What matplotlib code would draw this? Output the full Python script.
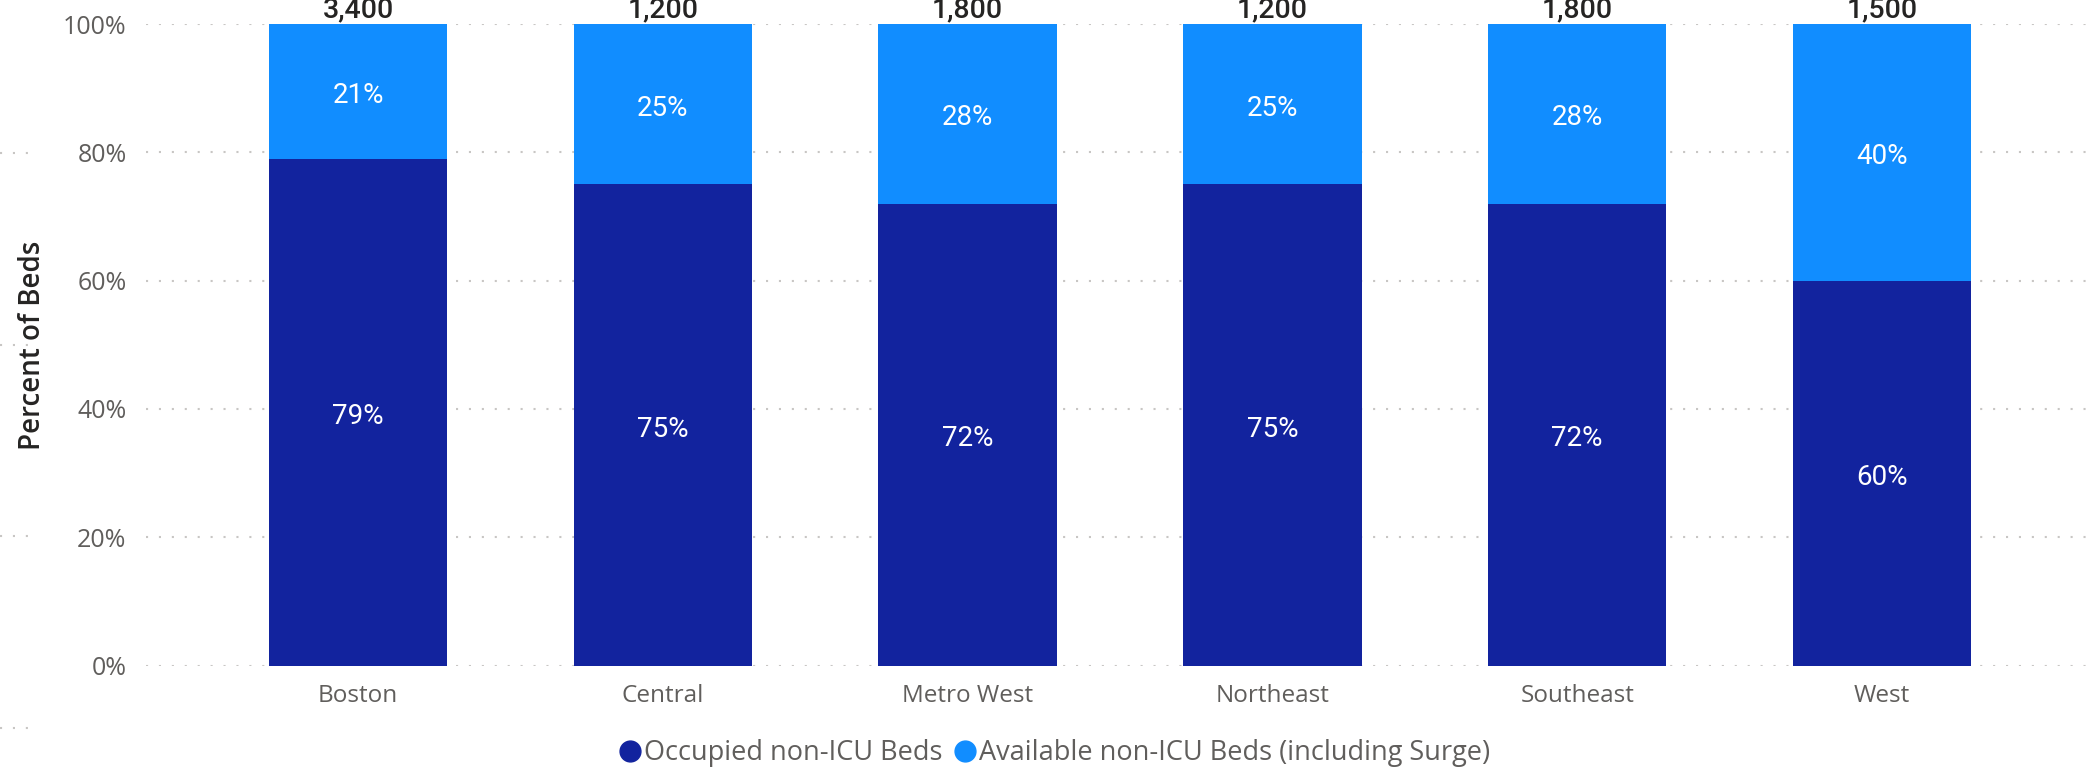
import matplotlib
matplotlib.use("Agg")
import matplotlib.pyplot as plt
from matplotlib.lines import Line2D
import numpy as np

# ---- data ----
regions = ["Boston", "Central", "Metro West", "Northeast", "Southeast", "West"]
occupied_pct = [79, 75, 72, 75, 72, 60]
available_pct = [21, 25, 28, 25, 28, 40]
total_beds = [3400, 1200, 1800, 1200, 1800, 1500]
y_ticks = [0, 20, 40, 60, 80, 100]
series_names = ["Occupied non-ICU Beds", "Available non-ICU Beds (including Surge)"]
colors = ["#12239E", "#118DFF"]

W, H = 2087, 770
fig = plt.figure(figsize=(W / 100, H / 100), dpi=100)
ax = fig.add_axes([146 / W, 1 - 665.5 / H, (W - 146) / W, (665.5 - 24) / H])

x = np.arange(len(regions))
bw = 0.585
ax.bar(x, occupied_pct, bw, color=colors[0], zorder=3)
ax.bar(x, available_pct, bw, bottom=occupied_pct, color=colors[1], zorder=3)

for xi, o, a, t in zip(x, occupied_pct, available_pct, total_beds):
    ax.annotate(f"{o}%", (xi, o / 2), xytext=(0, -3), textcoords="offset points",
                ha="center", va="center", color="white", fontsize=20, family="Roboto",
                zorder=4)
    ax.annotate(f"{a}%", (xi, o + a / 2), xytext=(0, -3), textcoords="offset points",
                ha="center", va="center", color="white", fontsize=20, family="Roboto",
                zorder=4)
    ax.annotate(f"{t:,}", (xi, o + a), xytext=(0, 4.5), textcoords="offset points",
                ha="center", va="baseline", color="#252423", fontsize=20.5,
                family="Roboto", fontweight="medium", annotation_clip=False)

ax.set_xlim((146 - 358) / 304.8, (W - 358) / 304.8)
ax.set_ylim(0, 100)
ax.set_yticks(y_ticks)
ax.set_yticklabels([f"{v}%" for v in y_ticks], fontsize=18, family="Open Sans", color="#605E5C")
ax.set_xticks(x)
ax.set_xticklabels(regions, fontsize=17.5, family="Open Sans", color="#605E5C")
ax.tick_params(axis="y", length=0, pad=14)
ax.tick_params(axis="x", length=0, pad=13)
for s in ax.spines.values():
    s.set_visible(False)
grid_style = dict(linestyle=(0, (1, 5.2)), linewidth=1.5, color="#C8C6C4")
ax.yaxis.grid(True, zorder=0, **grid_style)
ax.set_axisbelow(True)

fig.text(33 / W, 1 - 345 / H, "Percent of Beds", rotation=90, ha="center", va="center",
         fontsize=20, family="Open Sans", fontweight="semibold", color="#252423")

# stray dotted fragments at left edge
for yy in [153, 345, 536, 728]:
    fig.add_artist(Line2D([0, 32 / W], [1 - yy / H, 1 - yy / H], transform=fig.transFigure,
                          **grid_style))

handles = [Line2D([], [], marker="o", linestyle="none", markersize=15,
                  markerfacecolor=c, markeredgecolor=c) for c in colors]
leg = fig.legend(handles, series_names, loc="center", bbox_to_anchor=(0.5056, 1 - 753 / H),
                 ncol=2, frameon=False, handlelength=0.7, handletextpad=0.15,
                 columnspacing=0.5, borderpad=0, borderaxespad=0,
                 prop={"family": "Open Sans", "size": 19.5})
for t in leg.get_texts():
    t.set_color("#605E5C")

fig.savefig("out.png", dpi=100)
